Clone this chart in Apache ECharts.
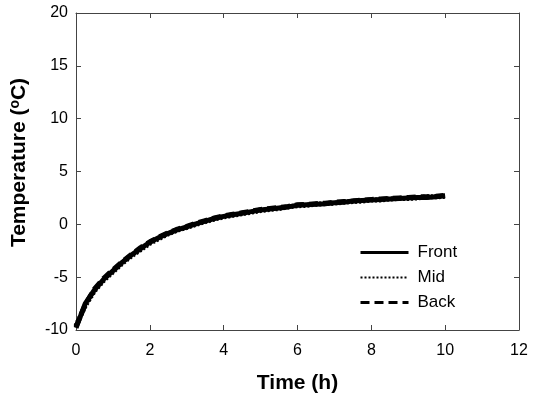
<!DOCTYPE html>
<html><head><meta charset="utf-8">
<script src="https://cdn.jsdelivr.net/npm/echarts@6/dist/echarts.min.js"></script>
<style>html,body{margin:0;padding:0;background:#fff}#c{width:534px;height:399px}</style>
</head><body><div id="c"></div>
<script>
const times = [0,0.25,0.5,0.75,1,1.25,1.5,1.75,2,2.25,2.5,2.75,3,3.25,3.5,3.75,4,4.25,4.5,4.75,5,5.25,5.5,5.75,6,6.25,6.5,6.75,7,7.25,7.5,7.75,8,8.25,8.5,8.75,9,9.25,9.5,9.75,10];
const front = [-9.8,-7.5,-6.2,-5.2,-4.4,-3.6,-2.9,-2.3,-1.7,-1.25,-0.85,-0.5,-0.25,0.05,0.3,0.55,0.75,0.9,1.05,1.2,1.35,1.45,1.55,1.65,1.8,1.85,1.9,1.95,2.05,2.1,2.2,2.25,2.3,2.35,2.4,2.45,2.5,2.55,2.55,2.6,2.7];
const mid   = [-9.6,-7.7,-6.3,-5.3,-4.5,-3.7,-3.0,-2.4,-1.8,-1.35,-0.9,-0.55,-0.3,0.0,0.25,0.5,0.7,0.85,1.0,1.15,1.3,1.4,1.5,1.65,1.75,1.8,1.9,1.95,2.0,2.1,2.15,2.2,2.3,2.3,2.4,2.45,2.45,2.5,2.6,2.6,2.65];
const back  = [-9.7,-7.6,-6.1,-5.1,-4.3,-3.55,-2.85,-2.2,-1.65,-1.2,-0.8,-0.45,-0.2,0.1,0.35,0.6,0.8,0.95,1.1,1.25,1.4,1.5,1.6,1.7,1.85,1.9,1.95,2.0,2.1,2.15,2.2,2.3,2.35,2.4,2.45,2.5,2.55,2.6,2.6,2.65,2.75];
const xTicks = [0,2,4,6,8,10,12];
const yTicks = [-10,-5,0,5,10,15,20];
const seriesNames = ['Front','Mid','Back'];

const pair = arr => times.map((t,i)=>[t,arr[i]]);
const axisColor = '#444';
const font = 'Arial, "Liberation Sans", sans-serif';
const chart = echarts.init(document.getElementById('c'), null, {renderer:'canvas'});
const baseAxis = {
  axisLine:{show:true,onZero:false,lineStyle:{color:axisColor,width:1}},
  axisTick:{show:true,inside:true,length:5,lineStyle:{color:axisColor}},
  splitLine:{show:false}
};
const hidden = {opacity:0,color:'rgba(0,0,0,0)',borderWidth:0};
chart.setOption({
  animation:false,
  backgroundColor:'#fff',
  grid:{left:75,right:15,top:13,bottom:68,containLabel:false},
  xAxis:[
    Object.assign({}, baseAxis, {type:'value',min:xTicks[0],max:xTicks[xTicks.length-1],interval:2,position:'bottom',
      axisLabel:{color:'#000',fontSize:16,fontFamily:font,margin:13},
      name:'Time (h)',nameLocation:'middle',nameGap:43,
      nameTextStyle:{fontSize:21,fontWeight:'bold',color:'#000',fontFamily:font}}),
    Object.assign({}, baseAxis, {type:'value',min:xTicks[0],max:xTicks[xTicks.length-1],interval:2,position:'top',axisLabel:{show:false}})
  ],
  yAxis:[
    Object.assign({}, baseAxis, {type:'value',min:yTicks[0],max:yTicks[yTicks.length-1],interval:5,position:'left',
      axisLabel:{color:'#000',fontSize:16,fontFamily:font,margin:8},
      name:'{a|Temperature (}{s|o}{a|C)}',nameLocation:'middle',nameGap:46,nameRotate:90,
      nameTextStyle:{fontFamily:font,padding:[0,0,0,18],rich:{
        a:{fontSize:21,fontWeight:'bold',color:'#000',fontFamily:font},
        s:{fontSize:14,fontWeight:'bold',color:'#000',fontFamily:font,verticalAlign:'top',padding:[0,0,8,0]}
      }}}),
    Object.assign({}, baseAxis, {type:'value',min:yTicks[0],max:yTicks[yTicks.length-1],interval:5,position:'right',axisLabel:{show:false}})
  ],
  legend:{
    orient:'vertical',left:354,top:239,itemWidth:48,itemHeight:14,itemGap:8,
    textStyle:{fontSize:17,color:'#000',fontFamily:font,padding:[0,0,0,4]},
    itemStyle:hidden,
    data:[
      {name:'Front',itemStyle:hidden,lineStyle:{width:3,type:'solid',color:'#000'}},
      {name:'Mid',itemStyle:hidden,lineStyle:{width:2,type:[2,2],color:'#000'}},
      {name:'Back',itemStyle:hidden,lineStyle:{width:3,type:[9,5],color:'#000'}}
    ]
  },
  series:[
    {name:seriesNames[0],type:'line',data:pair(front),symbol:'none',lineStyle:{color:'#000',width:5,type:'solid'},itemStyle:{color:'#000'}},
    {name:seriesNames[1],type:'line',data:pair(mid),symbol:'none',lineStyle:{color:'#000',width:5,type:[2,2]},itemStyle:{color:'#000'}},
    {name:seriesNames[2],type:'line',data:pair(back),symbol:'none',lineStyle:{color:'#000',width:5,type:[9,5]},itemStyle:{color:'#000'}}
  ]
});
</script></body></html>
